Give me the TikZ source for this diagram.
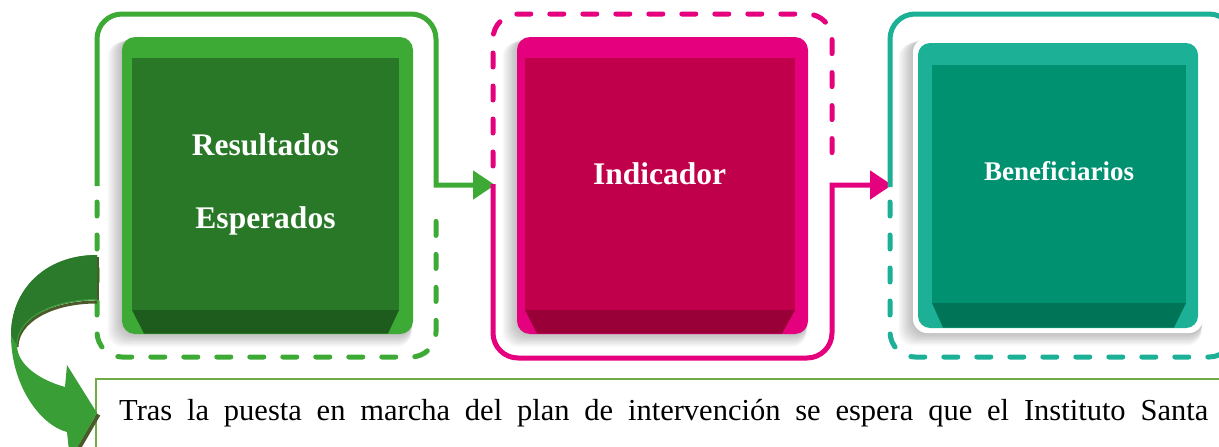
\documentclass[tikz,border=0pt]{standalone}
\usepackage{fontspec}
\setmainfont{Liberation Serif}
\usetikzlibrary{arrows.meta}
\definecolor{grnframe}{HTML}{3DAA35}
\definecolor{grnface}{HTML}{287828}
\definecolor{grnbevel}{HTML}{1E5C1E}
\definecolor{pnkframe}{HTML}{E5007E}
\definecolor{pnkface}{HTML}{C1004B}
\definecolor{pnkbevel}{HTML}{990038}
\definecolor{tealframe}{HTML}{1CB096}
\definecolor{tealface}{HTML}{009270}
\definecolor{tealbevel}{HTML}{007456}
\definecolor{txtbox}{HTML}{70AD47}
\definecolor{arrlight}{HTML}{3A9E36}
\definecolor{arrdark}{HTML}{2B7A2B}
\definecolor{arredge}{HTML}{4B5A2B}
\newcommand\softshadow[4]{%
  \foreach \k in {1,...,9}{%
    \fill[black,opacity=0.028,rounded corners=14pt] ({#1-\k*1.6},{#2+\k*0.6}) rectangle ({#3-\k*0.2},{#4+\k*1.4});
  }}
\begin{document}
\begin{tikzpicture}[x=1pt,y=-1pt,
  solidfr/.style={line width=5pt},
  dashfr/.style={line width=5pt, dash pattern=on 14pt off 19pt, line cap=round},
  flowtip/.style={-{Triangle[length=22pt,width=28pt]}},
  boxlabel/.style={text=white, font=\fontsize{31.5pt}{38pt}\selectfont\bfseries, inner sep=0pt, anchor=base},
]
\useasboundingbox (0,0) rectangle (1219,447);
\fill[white] (0,0) rectangle (1219,447);

% connection points on the frames
\coordinate (gR) at (436,185);
\coordinate (pL) at (495,185);
\coordinate (pR) at (832,185);
\coordinate (tL) at (892,185);

% green frame
\draw[grnframe,solidfr,flowtip,rounded corners=25pt] (97,186) -- (97,14) -- (436,14) [sharp corners] -- (gR) -- (pL);
\draw[grnframe,dashfr,rounded corners=25pt] (97,202) -- (97,357) -- (436,357) -- (436,204);

% pink frame
\draw[pnkframe,dashfr,rounded corners=25pt] (493,166) -- (493,14) -- (832,14) -- (832,168);
\draw[pnkframe,solidfr,flowtip,rounded corners=25pt] (493,184) -- (493,358) -- (832,358) [sharp corners] -- (pR) -- (tL);

% teal frame
\draw[tealframe,solidfr,rounded corners=25pt] (890,187) -- (890,14) -- (1234,14) -- (1234,120);
\draw[tealframe,dashfr,rounded corners=25pt] (890,202) -- (890,357) -- (1234,357) -- (1234,200);

% green box
\softshadow{122}{37}{413}{334}
\fill[grnframe,rounded corners=13pt] (122,37) rectangle (413,334);
\fill[grnface] (132,58) rectangle (399,310);
\fill[grnbevel] (132,310) -- (399,310) -- (388,333.5) -- (144,333.5) -- cycle;
\node[boxlabel] (res) at (265.5,155) {Resultados};
\node[boxlabel] (esp) at (265.5,228) {Esperados};

% pink box
\softshadow{517}{37}{808}{334}
\fill[pnkframe,rounded corners=13pt] (517,37) rectangle (808,334);
\fill[pnkface] (525,58) rectangle (795,310);
\fill[pnkbevel] (525,310) -- (795,310) -- (782,333.5) -- (537,333.5) -- cycle;
\node[boxlabel] (ind) at (659.7,184) {Indicador};

% teal box
\softshadow{913}{38}{1203}{333}
\fill[white,rounded corners=14pt] (913,38) rectangle (1203,333);
\fill[tealframe,rounded corners=12pt] (918,43) rectangle (1198,328);
\fill[tealface] (932,65) rectangle (1186,303);
\fill[tealbevel] (932,303) -- (1186,303) -- (1174,327.5) -- (943,327.5) -- cycle;
\node[boxlabel,font=\fontsize{27pt}{32pt}\selectfont\bfseries] (ben) at (1059,180) {Beneficiarios};

% text box
\draw[txtbox,line width=1.6pt] (96,470) -- (96,379) -- (1230,379);
\node[anchor=base west,inner sep=0pt,font=\fontsize{30.5pt}{36pt}\selectfont] (txt) at (119,420)
  {\makebox[1089pt][s]{Tras la puesta en marcha del plan de intervención se espera que el Instituto Santa}};

% curved arrow
\draw[arredge,line width=4pt] (98.5,414.5) -- (71.5,461);
\draw[arredge,line width=3pt] (97,302) .. controls (50,302) and (17,322) .. (17,347);
\fill[arrlight] (97,255) .. controls (45,255) and (11,290) .. (11,335) .. controls (11,385) and (40,425) .. (67,432)
  -- (70,460) -- (97,413) -- (67,365) -- (65,387)
  .. controls (40,380) and (17,365) .. (17,345) .. controls (17,320) and (50,300) .. (97,300) -- cycle;
\fill[arrdark] (97,255) .. controls (45,255) and (11,290) .. (11,335) -- (17,345)
  .. controls (17,320) and (50,300) .. (97,300) -- cycle;
\draw[arrlight,line width=1pt] (97,299.5) .. controls (50,299.5) and (17,319.5) .. (17,344.5);
\draw[arredge,line width=2pt] (98,257) -- (98,300);
\end{tikzpicture}
\end{document}
